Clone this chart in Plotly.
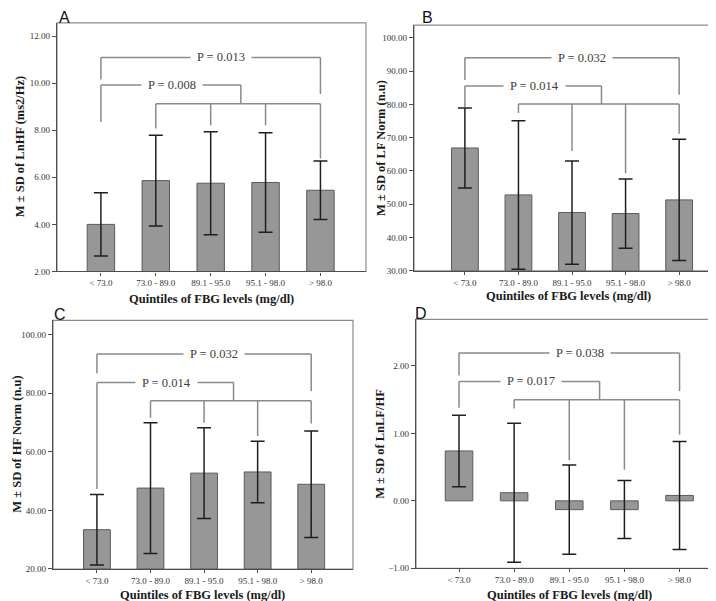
import plotly.graph_objects as go

W, H = 716, 601

CATEGORIES = ["< 73.0", "73.0 - 89.0", "89.1 - 95.0", "95.1 - 98.0", "> 98.0"]
X_TITLE = "Quintiles of FBG levels (mg/dl)"

# Means and SDs
A_MEAN = [4.00, 5.86, 5.75, 5.78, 5.45]
A_SD = [1.34, 1.93, 2.19, 2.11, 1.24]
B_MEAN = [66.9, 52.8, 47.5, 47.2, 51.3]
B_SD = [12.0, 22.3, 15.5, 10.4, 18.2]
C_MEAN = [33.4, 47.6, 52.7, 53.1, 48.9]
C_SD = [12.0, 22.3, 15.5, 10.5, 18.2]
D_MEAN = [0.74, 0.12, -0.13, -0.13, 0.08]
D_SD = [0.53, 1.03, 0.66, 0.43, 0.80]

# Significance brackets
# outer: [level, left end, right end]; inner: [level, left end, junction level]; drops: ends for bars 2..5
A_OUTER = [11.09, 10.15, 9.54]
A_INNER = [9.92, 8.35, 9.12]
A_DROPS = [8.07, 8.21, 8.21, 6.80]
B_OUTER = [94.0, 87.3, 82.9]
B_INNER = [85.5, 79.2, 80.1]
B_DROPS = [77.4, 66.0, 59.3, 71.2]
C_OUTER = [93.3, 86.8, 80.6]
C_INNER = [83.6, 47.3, 77.4]
C_DROPS = [71.6, 69.9, 65.4, 69.6]
D_OUTER = [2.19, 1.86, 1.63]
D_INNER = [1.77, 1.38, 1.50]
D_DROPS = [1.37, 0.60, 0.46, 0.985]

A_P = ["P = 0.008", "P = 0.013"]
B_P = ["P = 0.014", "P = 0.032"]
C_P = ["P = 0.014", "P = 0.032"]
D_P = ["P = 0.017", "P = 0.038"]

A_YTITLE = "M ± SD of LnHF (ms2/Hz)"
B_YTITLE = "M ± SD of LF Norm (n.u)"
C_YTITLE = "M ± SD of HF Norm (n.u)"
D_YTITLE = "M ± SD of LnLF/HF"

A_TICKS = [2, 4, 6, 8, 10, 12]
B_TICKS = [30, 40, 50, 60, 70, 80, 90, 100]
C_TICKS = [20, 40, 60, 80, 100]
D_TICKS = [-1, 0, 1, 2]

SERIF = "Liberation Serif, Times New Roman, serif"
SANS = "Liberation Sans, Arial, sans-serif"

# panel layout in pixels: left, right, top, bottom of plot frame
panels = [
    dict(letter="A", mean=A_MEAN, sd=A_SD, outer=A_OUTER, inner=A_INNER, drops=A_DROPS, p=A_P,
         ytitle=A_YTITLE, ticks=A_TICKS, box=(49, 358, 15, 265.7), yr=[2, 12.56], xr=[-0.80, 4.83],
         base=2, ytitle_x=12, xtitle_y=293, letter_x=56),
    dict(letter="B", mean=B_MEAN, sd=B_SD, outer=B_OUTER, inner=B_INNER, drops=B_DROPS, p=B_P,
         ytitle=B_YTITLE, ticks=B_TICKS, box=(406, 714, 17.3, 265), yr=[30, 103.8], xr=[-0.95, 4.80],
         base=30, ytitle_x=373, xtitle_y=290, letter_x=419),
    dict(letter="C", mean=C_MEAN, sd=C_SD, outer=C_OUTER, inner=C_INNER, drops=C_DROPS, p=C_P,
         ytitle=C_YTITLE, ticks=C_TICKS, box=(45, 345, 315, 565.7), yr=[20, 104.8], xr=[-0.82, 4.78],
         base=20, ytitle_x=9, xtitle_y=None, letter_x=52),
    dict(letter="D", mean=D_MEAN, sd=D_SD, outer=D_OUTER, inner=D_INNER, drops=D_DROPS, p=D_P,
         ytitle=D_YTITLE, ticks=D_TICKS, box=(408, 714, 314, 565), yr=[-1, 2.69], xr=[-0.78, 4.77],
         base=0, ytitle_x=372, xtitle_y=None, letter_x=413),
]

fig = go.Figure()
shapes = []
annotations = []
layout_axes = {}

BAR_FILL = "#979797"
BAR_LINE = "#5a5a5a"
ERR_COLOR = "#1f1f1f"
BRACKET = "#8a8a8a"
FRAME = "#8c8c8c"
AXIS = "#4d4d4d"
TICK_FONT = dict(family=SERIF, size=9, color="#333333")

xs = list(range(len(CATEGORIES)))
JUNCTION_X = 2.55
P_INNER_X = 1.3
P_OUTER_X = 2.19

for i, pnl in enumerate(panels):
    n = "" if i == 0 else str(i + 1)
    xa, ya = "x" + n, "y" + n
    l, r, t, b = pnl["box"]
    xdom = [l / W, r / W]
    ydom = [(H - b) / H, (H - t) / H]

    base = pnl["base"]
    fig.add_trace(go.Bar(
        x=xs, y=[m - base for m in pnl["mean"]], base=base, width=0.5,
        marker=dict(color=BAR_FILL, line=dict(color=BAR_LINE, width=1)),
        error_y=dict(type="data", array=pnl["sd"], symmetric=True,
                     color=ERR_COLOR, thickness=1.5, width=7),
        xaxis=xa, yaxis=ya, showlegend=False, hoverinfo="skip",
    ))

    layout_axes["xaxis" + n] = dict(
        domain=xdom, anchor=ya, range=pnl["xr"], tickvals=xs, ticktext=CATEGORIES,
        showline=True, linecolor=AXIS, linewidth=1.2, ticks="outside", ticklen=3,
        tickcolor=AXIS, showgrid=False, zeroline=False,
        tickfont=TICK_FONT, fixedrange=True,
    )
    layout_axes["yaxis" + n] = dict(
        domain=ydom, anchor=xa, range=pnl["yr"], tickvals=pnl["ticks"], tickformat=".2f",
        showline=True, linecolor=AXIS, linewidth=1.2, ticks="outside", ticklen=4,
        tickcolor=AXIS, showgrid=False, zeroline=False,
        tickfont=TICK_FONT, fixedrange=True,
    )

    # frame
    shapes.append(dict(type="rect", xref=xa + " domain", yref=ya + " domain",
                       x0=0, x1=1, y0=0, y1=1, line=dict(color=FRAME, width=1.2),
                       layer="below"))

    def seg(x0, y0, x1, y1):
        shapes.append(dict(type="line", xref=xa, yref=ya, x0=x0, y0=y0, x1=x1, y1=y1,
                           line=dict(color=BRACKET, width=1.5)))

    lvl, left_end, right_end = pnl["outer"]
    seg(xs[0], left_end, xs[0], lvl)
    seg(xs[0], lvl, xs[-1], lvl)
    seg(xs[-1], lvl, xs[-1], right_end)

    ilvl, ileft, junction = pnl["inner"]
    seg(xs[0], ileft, xs[0], ilvl)
    seg(xs[0], ilvl, JUNCTION_X, ilvl)
    seg(JUNCTION_X, ilvl, JUNCTION_X, junction)
    seg(xs[1], junction, xs[-1], junction)
    for xi, d in zip(xs[1:], pnl["drops"]):
        seg(xi, junction, xi, d)

    for txt, px, py in [(pnl["p"][0], P_INNER_X, ilvl), (pnl["p"][1], P_OUTER_X, lvl)]:
        annotations.append(dict(text=txt, x=px, y=py, xref=xa, yref=ya, showarrow=False,
                                bgcolor="white", borderpad=6,
                                font=dict(family=SERIF, size=12.5, color="#404040")))

    # axis titles
    annotations.append(dict(text="<b>%s</b>" % pnl["ytitle"], textangle=-90,
                            x=pnl["ytitle_x"] / W, y=(H - (t + b) / 2) / H,
                            xref="paper", yref="paper", showarrow=False,
                            xanchor="center", yanchor="middle",
                            font=dict(family=SERIF, size=12.5, color="#1a1a1a")))
    if pnl["xtitle_y"] is None:
        xt = dict(y=1 / H, yanchor="bottom")
    else:
        xt = dict(y=(H - pnl["xtitle_y"]) / H, yanchor="middle")
    annotations.append(dict(text="<b>%s</b>" % X_TITLE,
                            x=(l + r) / 2 / W, xref="paper", yref="paper", showarrow=False,
                            xanchor="center", borderpad=0,
                            font=dict(family=SERIF, size=12.5, color="#1a1a1a"), **xt))
    top_y = 1.0 if t < 100 else (H - t + 16) / H
    annotations.append(dict(text=pnl["letter"], x=pnl["letter_x"] / W, y=top_y,
                            xref="paper", yref="paper", showarrow=False,
                            xanchor="center", yanchor="top", borderpad=0,
                            font=dict(family=SANS, size=16, color="#111111")))

fig.update_layout(
    width=W, height=H, margin=dict(l=0, r=0, t=0, b=0),
    paper_bgcolor="white", plot_bgcolor="white",
    shapes=shapes, annotations=annotations, showlegend=False,
    **layout_axes,
)

fig.write_html("out.html", config={"displayModeBar": False})
